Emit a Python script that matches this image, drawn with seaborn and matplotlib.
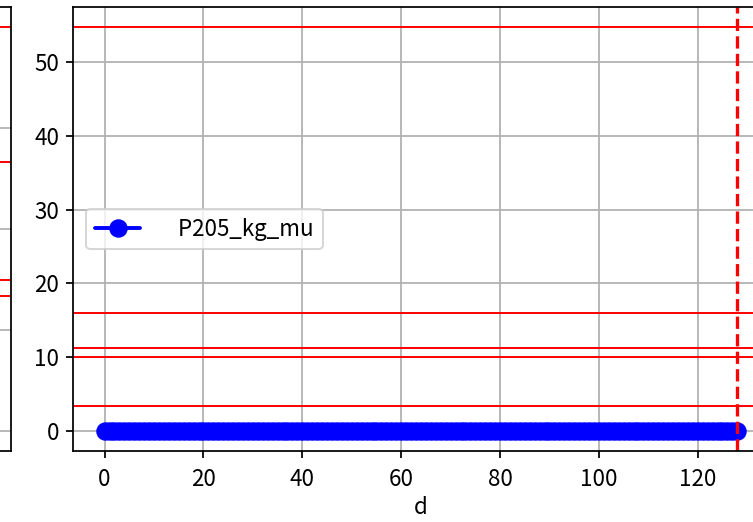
import seaborn as sns
import matplotlib.pyplot as plt
import pandas as pd
import numpy as np

# values
d = list(range(0, 129))
p205_kg_mu = [0.0] * len(d)
ref_levels = [54.75, 16.0, 11.2, 10.0, 3.4]
d_cut = 128

# neighbouring panel (only its right edge is visible)
left_grid = [0, 1, 2, 3, 4]
left_levels = [4.0, 2.66, 1.49, 1.34]

sns.set_style("ticks", {'axes.grid': True, 'axes.edgecolor': 'black',
                        'grid.color': '#b0b0b0', 'xtick.color': 'black',
                        'ytick.color': 'black', 'text.color': 'black',
                        'axes.labelcolor': 'black'})
plt.rcParams['font.family'] = ['Noto Sans CJK JP', 'DejaVu Sans']
plt.rcParams['font.size'] = 11.5
plt.rcParams['axes.linewidth'] = 0.9
plt.rcParams['grid.linewidth'] = 0.9
plt.rcParams['xtick.major.width'] = 0.9
plt.rcParams['ytick.major.width'] = 0.9
plt.rcParams['xtick.major.pad'] = 5
plt.rcParams['xtick.labelsize'] = 11.5
plt.rcParams['ytick.labelsize'] = 11.5
plt.rcParams['axes.labelsize'] = 11.5

df = pd.DataFrame({'d': d, 'P205_kg_mu': p205_kg_mu})

fig = plt.figure(figsize=(753 / 140, 522 / 140), dpi=140)
ax0 = fig.add_axes([-0.40, 0.136, 0.4146, 0.8506])
ax = fig.add_axes([0.0969, 0.136, 0.9243, 0.8506])

# left panel
ax0.plot([0, 1], [0, 4], alpha=0)
ax0.set_yticks(left_grid)
ax0.set_xticks([])
ax0.tick_params(labelleft=False, left=False)
for v in left_levels:
    ax0.axhline(v, color='red', lw=1)
ax0.set_ylim(-0.2, 4.2)

# main panel
sns.lineplot(data=df, x='d', y='P205_kg_mu', marker='o', color='blue',
             lw=2, markersize=9.5, markeredgecolor='blue', markeredgewidth=0,
             label='    P205_kg_mu', ax=ax)
for v in ref_levels:
    ax.axhline(v, color='red', lw=1)
ax.axvline(d_cut, color='red', ls='--', lw=1.7)
ax.set_xlim(-6.4, 134.4)
ax.set_ylim(-2.74, 57.49)
ax.set_xticks(np.arange(0, 121, 20))
ax.set_yticks(np.arange(0, 51, 10))
ax.set_xlabel('d', labelpad=3)
ax.set_ylabel('')
ax.legend(loc='center left', borderaxespad=0.6)

plt.savefig('out.png', dpi=140)
